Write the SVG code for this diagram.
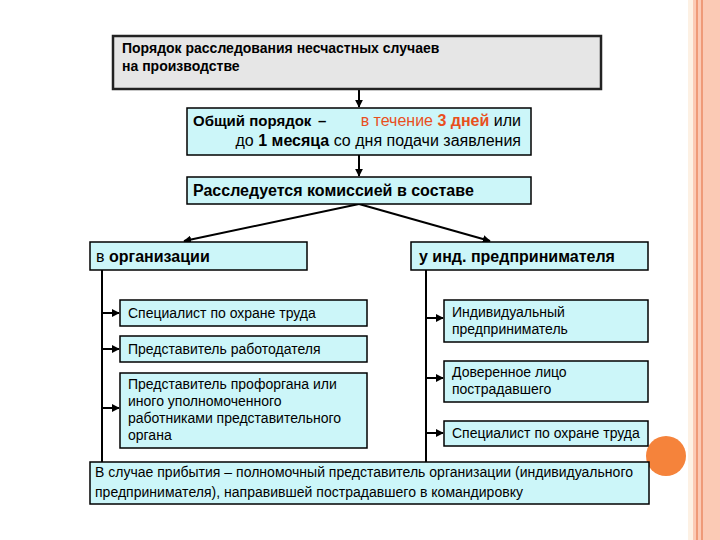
<svg xmlns="http://www.w3.org/2000/svg" width="720" height="540" viewBox="0 0 720 540">
<style>
text{font-family:"Liberation Sans",Arial,sans-serif;fill:#000}
.box{fill:#ccf6f9;stroke:#000;stroke-width:1.5}
.t14{font-size:14px}
.b16{font-size:16px;font-weight:bold}
.con{stroke:#000;stroke-width:2;fill:none}
.red{fill:#e8501e}
</style>
<defs>
<marker id="ah" viewBox="0 0 10 10" refX="9" refY="5" markerWidth="4" markerHeight="4" orient="auto" markerUnits="strokeWidth">
<path d="M0,0 L10,5 L0,10 z" fill="#000"/>
</marker>
</defs>
<rect x="0" y="0" width="720" height="540" fill="#fff"/>
<!-- decorative band -->
<rect x="688" y="0" width="32" height="540" fill="#fbcab5"/>
<rect x="688" y="0" width="5" height="540" fill="#fdf1e4"/>
<rect x="696" y="0" width="2" height="540" fill="#ef9a78"/>
<rect x="701" y="0" width="2" height="540" fill="#ef9a78"/>
<circle cx="666" cy="456" r="20" fill="#f5833b"/>

<g id="connectors">
<line class="con" x1="359" y1="90" x2="359" y2="107" marker-end="url(#ah)"/>
<line class="con" x1="359" y1="155" x2="359" y2="176" marker-end="url(#ah)"/>
<line class="con" x1="359" y1="204" x2="184" y2="241" marker-end="url(#ah)"/>
<line class="con" x1="359" y1="204" x2="490" y2="241" marker-end="url(#ah)"/>
<line class="con" x1="102" y1="270" x2="102" y2="462"/>
<line class="con" x1="102" y1="313" x2="119" y2="313" marker-end="url(#ah)"/>
<line class="con" x1="102" y1="349" x2="119" y2="349" marker-end="url(#ah)"/>
<line class="con" x1="102" y1="408" x2="119" y2="408" marker-end="url(#ah)"/>
<line class="con" x1="426" y1="270" x2="426" y2="462"/>
<line class="con" x1="426" y1="318" x2="443" y2="318" marker-end="url(#ah)"/>
<line class="con" x1="426" y1="378" x2="443" y2="378" marker-end="url(#ah)"/>
<line class="con" x1="426" y1="433" x2="443" y2="433" marker-end="url(#ah)"/>
</g>

<g id="title">
<rect x="113" y="36" width="488" height="53" fill="#e6e6e6" stroke="#222" stroke-width="2.5"/>
<text x="122" y="53" style="font-size:14px;font-weight:bold">Порядок расследования несчастных случаев</text>
<text x="122" y="71" style="font-size:14px;font-weight:bold">на производстве</text>
</g>

<g id="general">
<rect class="box" x="187" y="108" width="344" height="47"/>
<text x="193" y="126" style="font-size:15px;font-weight:bold">Общий порядок</text>
<text x="318" y="126" style="font-size:15px;font-weight:bold">–</text>
<text x="521" y="126" text-anchor="end" style="font-size:16px"><tspan class="red">в течение </tspan><tspan class="red" font-weight="bold">3 дней</tspan> или</text>
<text x="521" y="146" text-anchor="end" style="font-size:16px">до <tspan font-weight="bold">1 месяца</tspan> со дня подачи заявления</text>
</g>

<g id="commission">
<rect class="box" x="187" y="177" width="344" height="27"/>
<text x="193" y="196" class="b16">Расследуется комиссией в составе</text>
</g>

<g id="org">
<rect class="box" x="90" y="242" width="217" height="28"/>
<text x="96" y="262" style="font-size:16px">в <tspan font-weight="bold">организации</tspan></text>
</g>

<g id="ip">
<rect class="box" x="411" y="242" width="237" height="28"/>
<text x="419" y="262" class="b16">у инд. предпринимателя</text>
</g>

<g id="org-specialist">
<rect class="box" x="120" y="300" width="247" height="26"/>
<text x="128" y="318" class="t14">Специалист по охране труда</text>
</g>

<g id="org-employer">
<rect class="box" x="120" y="336" width="247" height="26"/>
<text x="128" y="354" class="t14">Представитель работодателя</text>
</g>

<g id="org-union">
<rect class="box" x="120" y="373" width="247" height="75"/>
<text x="128" y="389" class="t14">Представитель профоргана или</text>
<text x="128" y="406" class="t14">иного уполномоченного</text>
<text x="128" y="423" class="t14">работниками представительного</text>
<text x="128" y="440" class="t14">органа</text>
</g>

<g id="ip-self">
<rect class="box" x="444" y="300" width="204" height="42"/>
<text x="452" y="317" class="t14">Индивидуальный</text>
<text x="452" y="334" class="t14">предприниматель</text>
</g>

<g id="ip-proxy">
<rect class="box" x="444" y="361" width="204" height="41"/>
<text x="452" y="377" class="t14">Доверенное лицо</text>
<text x="452" y="394" class="t14">пострадавшего</text>
</g>

<g id="ip-specialist">
<rect class="box" x="444" y="421" width="204" height="25"/>
<text x="452" y="438" class="t14">Специалист по охране труда</text>
</g>

<g id="arrival">
<rect class="box" x="90" y="462" width="559" height="42"/>
<text x="95" y="477" class="t14" textLength="538" lengthAdjust="spacing">В случае прибытия – полномочный представитель организации (индивидуального</text>
<text x="95" y="497" class="t14" textLength="428" lengthAdjust="spacing">предпринимателя), направившей пострадавшего в командировку</text>
</g>
</svg>
